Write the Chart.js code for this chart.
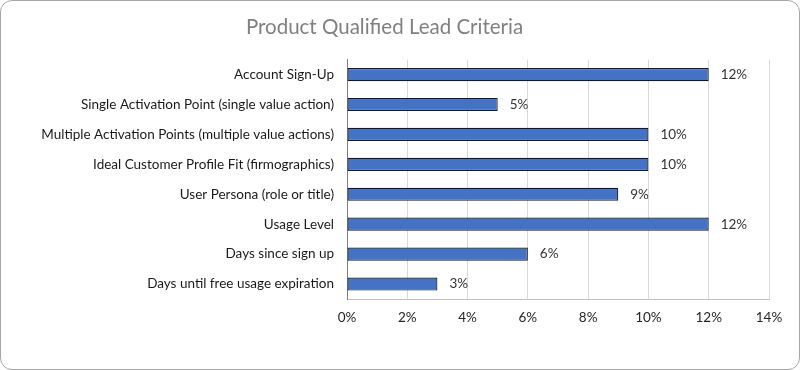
<!DOCTYPE html>
<html>
<head>
<meta charset="utf-8">
<script src="https://cdn.jsdelivr.net/npm/chart.js@4/dist/chart.umd.min.js"></script>
<style>
	html, body { margin: 0; padding: 0; background: #fff; overflow: hidden; }
	#wrap { position: relative; width: 800px; height: 370px; }
	#frame {
		position: absolute; left: 0; top: 0; width: 800px; height: 370px;
		box-sizing: border-box; border: 1px solid #a6a6a6; border-radius: 12px;
		pointer-events: none;
	}
</style>
</head>
<body>
<div id="wrap">
	<canvas id="chart" width="800" height="370"></canvas>
	<div id="frame"></div>
</div>
<script>
const criteria = [
	"Account Sign-Up",
	"Single Activation Point (single value action)",
	"Multiple Activation Points (multiple value actions)",
	"Ideal Customer Profile Fit (firmographics)",
	"User Persona (role or title)",
	"Usage Level",
	"Days since sign up",
	"Days until free usage expiration",
];
const shares = [12, 5, 10, 10, 9, 12, 6, 3];
const xTicks = [0, 2, 4, 6, 8, 10, 12, 14];

const FONT = "Lato, 'Open Sans', sans-serif";

// draws "12%" etc. just past the end of each bar
const barLabels = {
	id: "barLabels",
	afterDatasetsDraw(chart) {
		const { ctx } = chart;
		const meta = chart.getDatasetMeta(0);
		ctx.save();
		ctx.font = "13.5px " + FONT;
		ctx.fillStyle = "#333333";
		ctx.textAlign = "left";
		ctx.textBaseline = "middle";
		meta.data.forEach((bar, i) => {
			ctx.fillText(shares[i] + "%", bar.x + 12, bar.y);
		});
		ctx.restore();
	},
};

Chart.defaults.font.family = FONT;

new Chart(document.getElementById("chart"), {
	type: "bar",
	data: {
		labels: criteria,
		datasets: [
			{
				data: shares,
				backgroundColor: "#4472c4",
				borderColor: "#111a2c",
				borderWidth: 1.2,
				borderSkipped: false,
				categoryPercentage: 1,
				barPercentage: 0.44,
			},
		],
	},
	options: {
		indexAxis: "y",
		responsive: false,
		animation: false,
		layout: { padding: { left: 0, right: 31, top: 0, bottom: 0 } },
		plugins: {
			legend: { display: false },
			tooltip: { enabled: false },
			title: {
				display: true,
				text: "Product Qualified Lead Criteria",
				color: "#808080",
				font: { size: 20.5, weight: "normal", family: FONT },
				padding: { top: 15, bottom: 20 },
			},
		},
		scales: {
			x: {
				min: 0,
				max: 14,
				afterBuildTicks: (scale) => {
					scale.ticks = xTicks.map((v) => ({ value: v }));
				},
				afterFit: (scale) => {
					scale.height = 71;
				},
				ticks: {
					callback: (v) => v + "%",
					color: "#262626",
					font: { size: 13.5 },
					padding: 11,
					maxRotation: 0,
				},
				grid: { color: "#d9d9d9", drawTicks: false },
				border: { color: "#bfbfbf" },
			},
			y: {
				afterFit: (scale) => {
					scale.width = 347;
				},
				ticks: {
					color: "#1a1a1a",
					font: { size: 13.5 },
					padding: 13,
				},
				grid: { display: false, drawTicks: false },
				border: { color: "#7f7f7f" },
			},
		},
	},
	plugins: [barLabels],
});
</script>
</body>
</html>
